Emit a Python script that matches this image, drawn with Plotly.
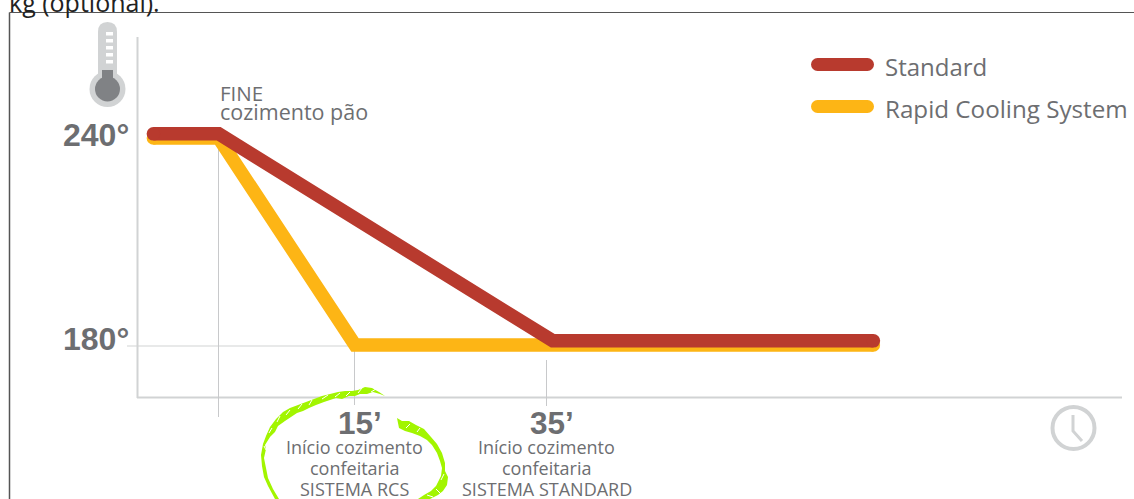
import plotly.graph_objects as go

W, H = 1134, 499
INK = "#6d6e71"
RED = "#b83a2e"
YEL = "#fdb515"
GREY = "#d1d3d4"
LIME = "#a2f500"

# Data (minutes, degrees)
std_minutes = [-6.0, 0.8, 35.6, 69.0]
std_temp = [241.2, 241.2, 181.2, 181.2]
rcs_minutes = [-6.0, 0.8, 15.0, 35.0, 69.0]
rcs_temp = [240.0, 240.0, 180.0, 180.0, 180.0]
temp_ticks = [240, 180]
temp_labels = ["240°", "180°"]
legend_names = ["Standard", "Rapid Cooling System"]
time_marks = [15, 35]
time_labels = ["15’", "35’"]
time_caption = [
    ["Início cozimento", "confeitaria", "SISTEMA RCS"],
    ["Início cozimento", "confeitaria", "SISTEMA STANDARD"],
]


def px(x):
    return x / W


def py(y):
    return 1 - y / H


def line(x0, y0, x1, y1, color, width):
    return dict(type="line", xref="paper", yref="paper", x0=px(x0), y0=py(y0), x1=px(x1), y1=py(y1),
                line=dict(color=color, width=width), layer="below")


def path(d, fill=None, color=None, width=0):
    out = []
    for c in d:
        if isinstance(c, str):
            out.append(c)
        else:
            out.append(f"{px(c[0]):.5f},{py(c[1]):.5f}")
    return dict(type="path", xref="paper", yref="paper", path=" ".join(out),
                fillcolor=fill or "rgba(0,0,0,0)", line=dict(color=color or "rgba(0,0,0,0)", width=width),
                layer="below")


def poly(points, fill):
    d = ["M", points[0]]
    for p in points[1:]:
        d += ["L", p]
    d.append("Z")
    return path(d, fill=fill)


def ellipse(cx, cy, r, fill=None, color=None, width=0):
    return dict(type="circle", xref="paper", yref="paper", x0=px(cx - r), x1=px(cx + r),
                y0=py(cy + r), y1=py(cy - r), fillcolor=fill or "rgba(0,0,0,0)",
                line=dict(color=color or "rgba(0,0,0,0)", width=width), layer="below")


def rect(x0, y0, x1, y1, color):
    return dict(type="rect", xref="paper", yref="paper", x0=px(x0), x1=px(x1), y0=py(y1), y1=py(y0),
                fillcolor=color, line=dict(width=0), layer="below")


def pill(x0, x1, y, h, color):
    return [
        ellipse(x0 + h / 2, y, h / 2, fill=color),
        ellipse(x1 - h / 2, y, h / 2, fill=color),
        rect(x0 + h / 2, y - h / 2, x1 - h / 2, y + h / 2, color),
    ]


fig = go.Figure()
fig.add_trace(go.Scatter(x=rcs_minutes, y=rcs_temp, mode="lines+markers", name=legend_names[1], showlegend=False,
                         hoverinfo="skip", line=dict(color=YEL, width=13.5),
                         marker=dict(color=YEL, opacity=1, size=[13.5, 0, 0, 0, 13.5], line=dict(width=0))))
fig.add_trace(go.Scatter(x=std_minutes, y=std_temp, mode="lines+markers", name=legend_names[0], showlegend=False,
                         hoverinfo="skip", line=dict(color=RED, width=13.5),
                         marker=dict(color=RED, opacity=1, size=[13.5, 0, 0, 13.5], line=dict(width=0))))

shapes = []
# frame of the page
shapes.append(line(9.5, 12.5, W, 12.5, "#555555", 1))
shapes.append(line(9.5, 12.5, 9.5, H, "#555555", 1.5))
# axes and guides
shapes.append(line(137.5, 37, 137.5, 398, GREY, 2))
shapes.append(line(137, 397.5, 1122, 397.5, GREY, 2))
shapes.append(line(127, 346, 355, 346, GREY, 1.2))
shapes.append(line(218.5, 140, 218.5, 417, "#c8c9cb", 1))
shapes.append(line(354.5, 336, 354.5, 405, "#c8c9cb", 1))
shapes.append(line(546.5, 360, 546.5, 406, "#c8c9cb", 1))
# legend swatches
shapes += pill(811, 874, 64.5, 13, RED)
shapes += pill(811, 874, 106.5, 13, YEL)
# thermometer
shapes.append(ellipse(107.5, 89, 18, fill=GREY))
shapes.append(path(["M", (98, 32), "Q", (98, 22), (107.5, 22), "Q", (117, 22), (117, 32), "L", (117, 80), "L", (98, 80), "Z"], fill=GREY))
shapes.append(ellipse(107.5, 89, 12.5, fill="#808285"))
shapes.append(rect(102, 70, 113, 85, "#808285"))
for yy in [32, 39, 46, 53, 60]:
    shapes.append(rect(106, yy, 113, yy + 3.5, "white"))
# clock
shapes.append(ellipse(1073.5, 428, 21, color=GREY, width=4))
shapes.append(path(["M", (1073, 415), "L", (1073, 431), "L", (1082, 441)], color=GREY, width=3))
# lime scribble, left stroke
shapes.append(poly([(385, 396), (379, 392), (372, 388), (365, 387), (358, 390), (352, 391), (345, 391), (338, 392),
                    (330, 394), (322, 396), (314, 399), (306, 402), (298, 405), (290, 408), (283, 412), (276, 419),
                    (270, 427), (266, 436), (263, 444), (261, 455), (262, 466), (264, 477), (268, 486), (275, 499),
                    (279, 499), (273, 489), (268, 478), (266, 468), (264, 458), (266, 449), (265, 445), (270, 437),
                    (275, 432), (278, 426), (285, 421), (291, 417), (297, 413), (303, 411), (309, 408), (316, 405),
                    (324, 402), (330, 400), (336, 398), (342, 399), (349, 396), (355, 396), (360, 394), (367, 394),
                    (373, 392), (380, 394)], LIME))
# lime scribble, right stroke
shapes.append(poly([(397, 418), (402, 421), (409, 421), (416, 425), (424, 429), (431, 437), (437, 444), (442, 453),
                    (445, 463), (445, 471), (448, 477), (447, 485), (443, 491), (438, 495), (430, 499), (418, 499),
                    (424, 495), (431, 491), (436, 486), (441, 476), (442, 468), (440, 461), (437, 453), (432, 445),
                    (427, 440), (420, 436), (412, 433), (405, 431), (399, 428), (398, 423)], LIME))
# dry-brush gaps in the scribble
for x0, y0, x1, y1 in [(376, 389, 371, 392), (362, 388, 358, 393), (350, 392, 346, 396), (340, 393, 335, 397),
                       (328, 395, 322, 399), (312, 400, 309, 405), (302, 404, 298, 409), (290, 410, 286, 415),
                       (280, 416, 277, 422), (272, 428, 269, 433), (264, 446, 266, 450), (436, 489, 441, 494),
                       (427, 495, 433, 497), (410, 424, 406, 428), (420, 428, 417, 432), (444, 474, 441, 480)]:
    shapes.append(line(x0, y0, x1, y1, "white", 1))


def text(x, y, s, size, family="Open Sans, Noto Sans, sans-serif", color=INK, xanchor="center", yanchor="middle"):
    return dict(xref="paper", yref="paper", x=px(x), y=py(y), text=s, showarrow=False,
                font=dict(size=size, family=family, color=color), xanchor=xanchor, yanchor=yanchor,
                align="center", borderpad=0, borderwidth=0)


BOLD = "Liberation Sans, Arial, sans-serif"
ann = [
    text(9, 2, "kg (optional).", 25, color="#222222", xanchor="left"),
    text(220, 93, "FINE", 20.5, xanchor="left"),
    text(220, 111.5, "cozimento pão", 21.5, xanchor="left"),
    text(885, 66, legend_names[0], 24, xanchor="left"),
    text(885, 108, legend_names[1], 24.2, xanchor="left"),
]
for t, lab, yy in zip(temp_ticks, temp_labels, [135, 339]):
    ann.append(text(129, yy, f"<b>{lab}</b>", 32, family=BOLD, xanchor="right"))
for m, lab, cap, xx in zip(time_marks, time_labels, time_caption, [354.5, 546.5]):
    ann.append(text(xx + 5.5, 423, f"<b>{lab}</b>", 31.5, family=BOLD))
    for s, yy in zip(cap, [447, 468, 489]):
        ann.append(text(xx, yy, s, 18))

fig.update_layout(
    width=W, height=H, margin=dict(l=0, r=0, t=0, b=0), paper_bgcolor="white", plot_bgcolor="rgba(0,0,0,0)",
    showlegend=False, shapes=shapes, annotations=ann,
    xaxis=dict(range=[-211 / 9.6, (W - 211) / 9.6], visible=False, fixedrange=True),
    yaxis=dict(range=[180 - (H - 345) / 3.45, 180 + 345 / 3.45], visible=False, fixedrange=True),
)
fig.write_html("out.html", config=dict(displayModeBar=False),
               post_script="document.body.style.margin='0';document.documentElement.style.overflow='hidden';")
